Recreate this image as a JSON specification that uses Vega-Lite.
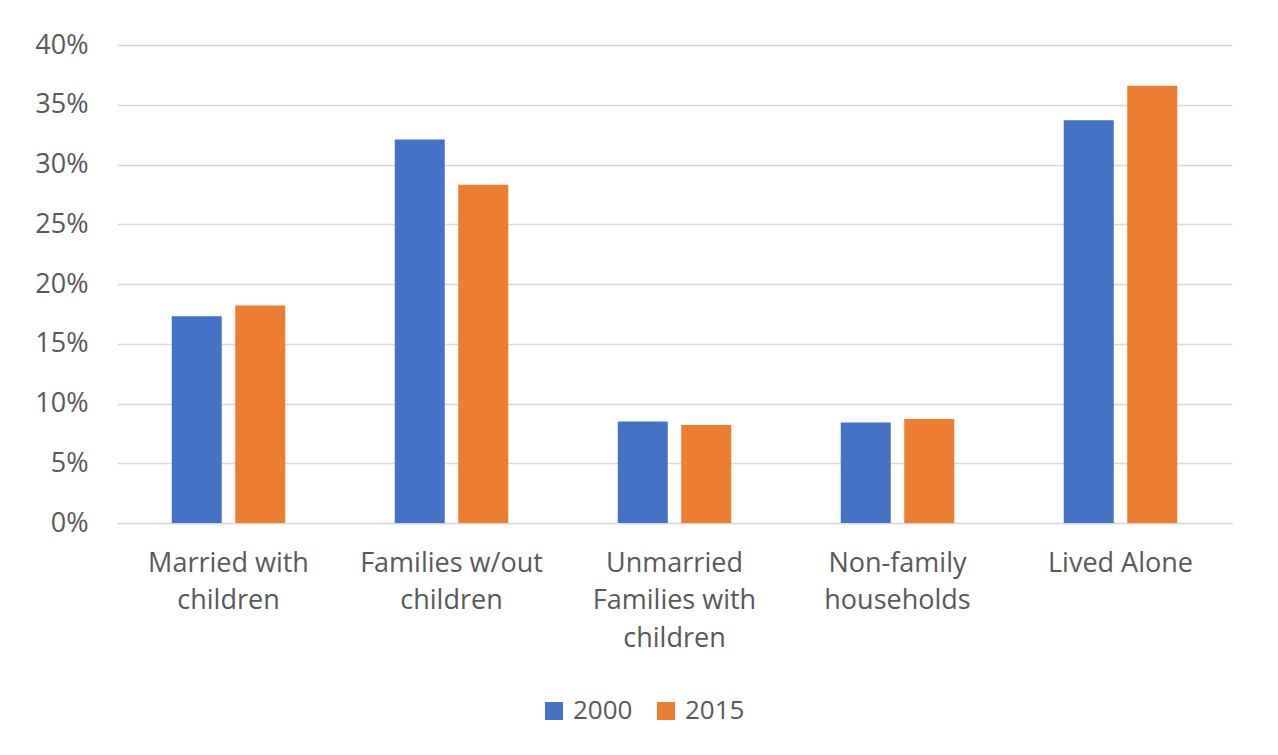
{
  "$schema": "https://vega.github.io/schema/vega-lite/v6.json",
  "autosize": "none",
  "width": 1115,
  "height": 478,
  "padding": {"left": 117, "top": 45, "right": 46, "bottom": 232},
  "background": "white",
  "data": {
    "values": [
      {"household": "Married with children", "year": "2000", "share": 0.173},
      {"household": "Married with children", "year": "2015", "share": 0.182},
      {"household": "Families w/out children", "year": "2000", "share": 0.321},
      {"household": "Families w/out children", "year": "2015", "share": 0.283},
      {"household": "Unmarried Families with children", "year": "2000", "share": 0.085},
      {"household": "Unmarried Families with children", "year": "2015", "share": 0.082},
      {"household": "Non-family households", "year": "2000", "share": 0.084},
      {"household": "Non-family households", "year": "2015", "share": 0.087},
      {"household": "Lived Alone", "year": "2000", "share": 0.337},
      {"household": "Lived Alone", "year": "2015", "share": 0.366}
    ]
  },
  "mark": {"type": "bar"},
  "encoding": {
    "x": {
      "field": "household",
      "type": "nominal",
      "sort": [
        "Married with children",
        "Families w/out children",
        "Unmarried Families with children",
        "Non-family households",
        "Lived Alone"
      ],
      "scale": {"paddingInner": 0, "paddingOuter": 0},
      "axis": {
        "title": null,
        "labelAngle": 0,
        "ticks": false,
        "domain": true,
        "domainColor": "#d9d9d9",
        "domainWidth": 1.5,
        "labelPadding": 27,
        "labelFont": "Open Sans",
        "labelFontSize": 27,
        "labelColor": "#595959",
        "labelLineHeight": 37.5,
        "labelBaseline": "top",
        "labelLimit": 300,
        "labelExpr": "datum.value == 'Married with children' ? ['Married with', 'children'] : datum.value == 'Families w/out children' ? ['Families w/out', 'children'] : datum.value == 'Unmarried Families with children' ? ['Unmarried', 'Families with', 'children'] : datum.value == 'Non-family households' ? ['Non-family', 'households'] : datum.value"
      }
    },
    "xOffset": {
      "field": "year",
      "type": "nominal",
      "scale": {"paddingInner": 0.2126, "paddingOuter": 0.862}
    },
    "y": {
      "field": "share",
      "type": "quantitative",
      "scale": {"domain": [0, 0.4], "nice": false},
      "axis": {
        "title": null,
        "format": ".0%",
        "values": [0, 0.05, 0.1, 0.15, 0.2, 0.25, 0.3, 0.35, 0.4],
        "domain": false,
        "ticks": false,
        "grid": true,
        "gridColor": "#d9d9d9",
        "gridWidth": 1.5,
        "labelPadding": 29,
        "labelFont": "Open Sans",
        "labelFontSize": 27,
        "labelColor": "#595959"
      }
    },
    "color": {
      "field": "year",
      "type": "nominal",
      "scale": {"domain": ["2000", "2015"], "range": ["#4472c4", "#ed7d31"]},
      "legend": {
        "title": null,
        "orient": "none",
        "direction": "horizontal",
        "legendX": 424,
        "legendY": 653,
        "symbolType": "square",
        "symbolSize": 324,
        "symbolStrokeWidth": 0,
        "labelFont": "Open Sans",
        "labelFontSize": 26,
        "labelColor": "#595959",
        "labelOffset": 6,
        "columnPadding": 20
      }
    }
  },
  "config": {
    "view": {"stroke": null}
  }
}
